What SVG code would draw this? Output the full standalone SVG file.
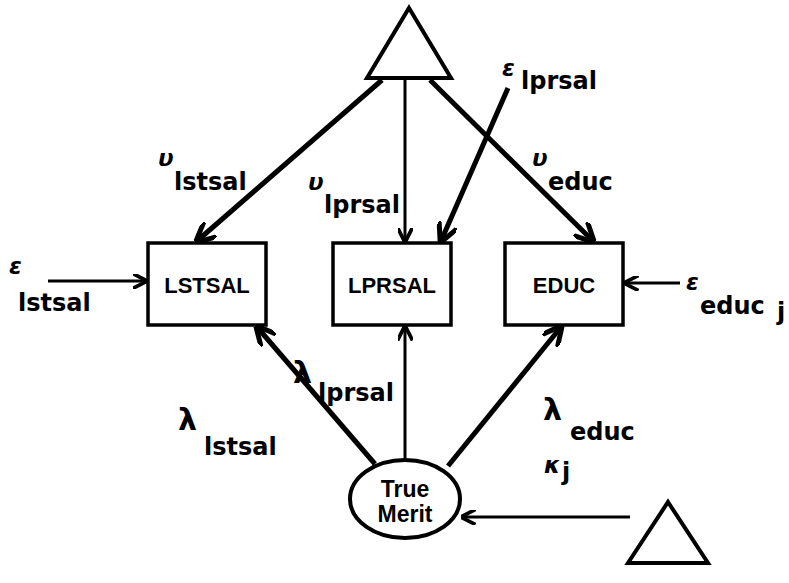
<svg xmlns="http://www.w3.org/2000/svg" width="789" height="583" viewBox="0 0 789 583">
  <style>
    .shape { fill: #fff; stroke: #000; stroke-width: 4; }
    .box { fill: #fff; stroke: #000; stroke-width: 3.5; }
    .thick { stroke: #000; stroke-width: 5; fill: none; }
    .thin { stroke: #000; stroke-width: 3; fill: none; }
    .lbl { font-family: "DejaVu Sans", "Liberation Sans", sans-serif; font-weight: bold; fill: #000; }
    .node { font-family: "Liberation Sans", Arial, sans-serif; font-size: 22px; text-anchor: middle; }
    .gr { font-size: 23px; font-style: italic; }
    .lam { font-size: 30px; }
    .sub { font-size: 24px; }
  </style>
  <defs>
    <marker id="arr" viewBox="0 0 10 10" refX="9" refY="5" markerWidth="4" markerHeight="4" orient="auto" markerUnits="strokeWidth">
      <path d="M0,0 L10,5 L0,10" fill="none" stroke="#000" stroke-width="2.5"/>
    </marker>
    <marker id="arrT" viewBox="0 0 10 10" refX="9" refY="5" markerWidth="5" markerHeight="5" orient="auto" markerUnits="strokeWidth">
      <path d="M0,0 L10,5 L0,10" fill="none" stroke="#000" stroke-width="2.5"/>
    </marker>
  </defs>

  <g id="connectors">
    <line class="thick" x1="382" y1="80" x2="197" y2="241" marker-end="url(#arr)"/>
    <line class="thin" x1="405" y1="78" x2="405" y2="241" marker-end="url(#arrT)"/>
    <line class="thick" x1="430" y1="80" x2="593" y2="241" marker-end="url(#arr)"/>
    <line class="thick" x1="508" y1="88" x2="441" y2="241" marker-end="url(#arr)"/>
    <line class="thin" x1="48" y1="281" x2="146" y2="281" marker-end="url(#arrT)"/>
    <line class="thin" x1="680" y1="283" x2="625" y2="283" marker-end="url(#arrT)"/>
    <line class="thick" x1="375" y1="464" x2="257" y2="327" marker-end="url(#arr)"/>
    <line class="thin" x1="405" y1="460" x2="405" y2="327" marker-end="url(#arrT)"/>
    <line class="thick" x1="448" y1="466" x2="561" y2="327" marker-end="url(#arr)"/>
    <line class="thin" x1="630" y1="517" x2="462" y2="517" marker-end="url(#arrT)"/>
  </g>

  <g id="mean-top">
    <polygon class="shape" points="409,8 451,78 367,78"/>
  </g>

  <g id="lstsal">
    <rect class="box" x="148" y="243" width="118" height="82"/>
    <text class="lbl node" x="207" y="293">LSTSAL</text>
  </g>
  <g id="lprsal">
    <rect class="box" x="333" y="243" width="118" height="82"/>
    <text class="lbl node" x="392" y="293">LPRSAL</text>
  </g>
  <g id="educ">
    <rect class="box" x="505" y="243" width="118" height="82"/>
    <text class="lbl node" x="564" y="293">EDUC</text>
  </g>

  <g id="true-merit">
    <ellipse class="shape" cx="405" cy="499" rx="55" ry="39"/>
    <text class="lbl node" x="405" y="497" style="font-size:23px">True</text>
    <text class="lbl node" x="405" y="522" style="font-size:23px">Merit</text>
  </g>

  <g id="mean-bottom">
    <polygon class="shape" points="668,502 708,563 628,563"/>
  </g>

  <g id="labels">
    <text class="lbl gr" x="9" y="274">ε</text>
    <text class="lbl sub" x="18" y="311">lstsal</text>
    <text class="lbl gr" x="686" y="290">ε</text>
    <text class="lbl sub" x="700" y="314">educ</text>
    <text class="lbl sub" x="777" y="320">j</text>
    <text class="lbl gr" x="502" y="76">ε</text>
    <text class="lbl sub" x="521" y="89">lprsal</text>
    <text class="lbl gr" x="158" y="166">υ</text>
    <text class="lbl sub" x="174" y="190">lstsal</text>
    <text class="lbl gr" x="308" y="190">υ</text>
    <text class="lbl sub" x="324" y="213">lprsal</text>
    <text class="lbl gr" x="532" y="166">υ</text>
    <text class="lbl sub" x="548" y="190">educ</text>
    <text class="lbl lam" x="293" y="383">λ</text>
    <text class="lbl sub" x="318" y="401">lprsal</text>
    <text class="lbl lam" x="178" y="430">λ</text>
    <text class="lbl sub" x="204" y="455">lstsal</text>
    <text class="lbl lam" x="543" y="420">λ</text>
    <text class="lbl sub" x="570" y="440">educ</text>
    <text class="lbl gr" x="544" y="473">κ</text>
    <text class="lbl sub" x="562" y="480">j</text>
  </g>
</svg>
